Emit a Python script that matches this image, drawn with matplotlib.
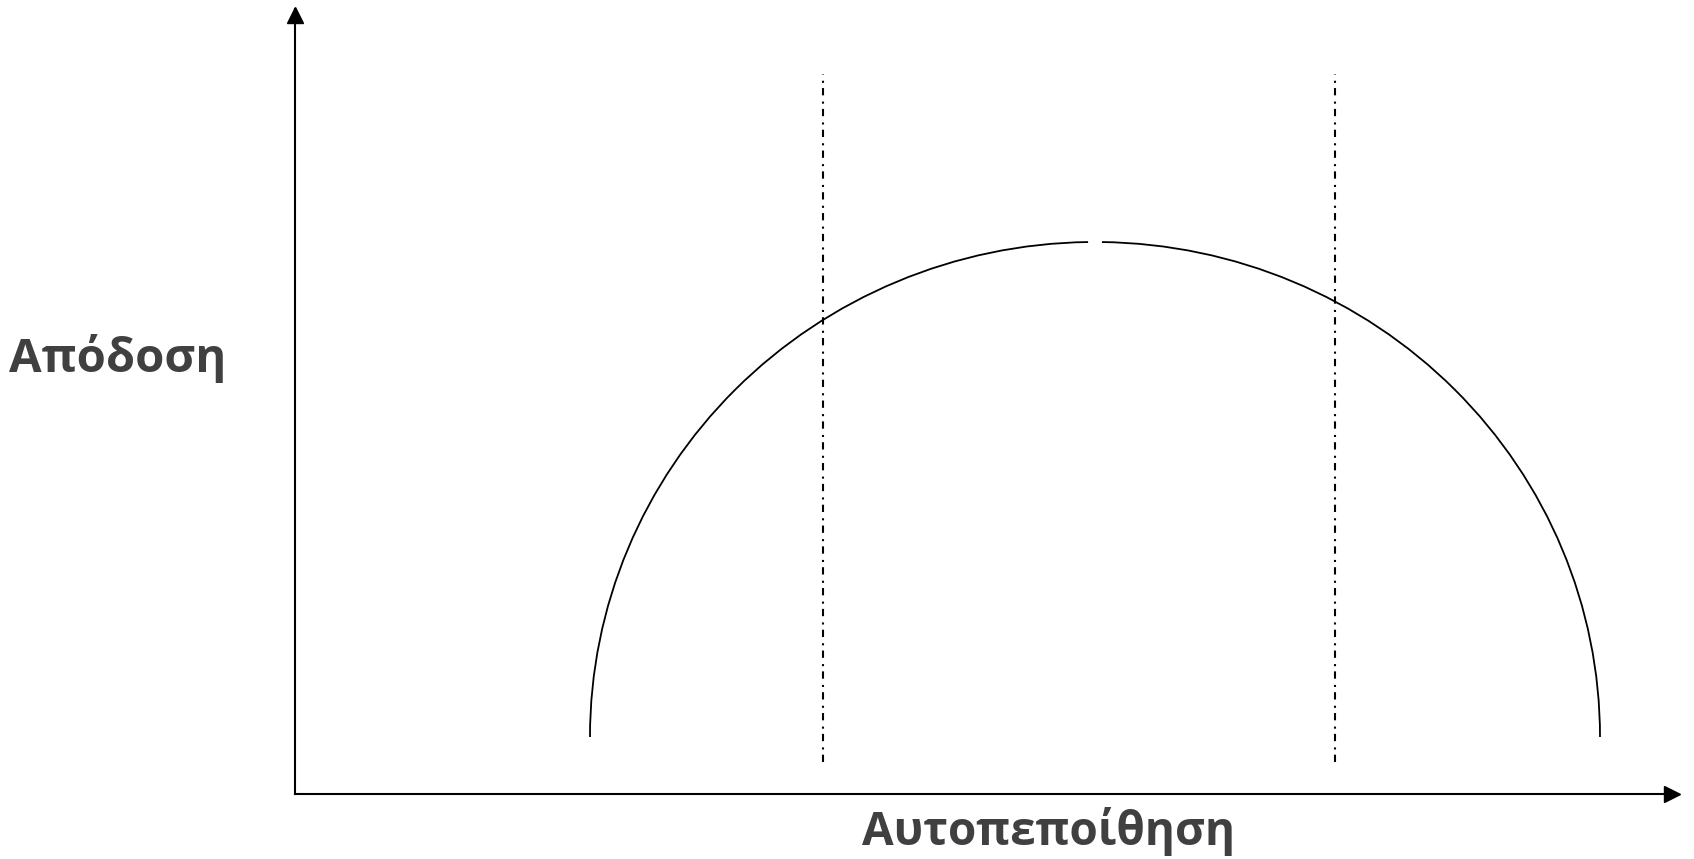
import matplotlib.pyplot as plt
from matplotlib.patches import Arc

# diagram values, in pixel units measured from the axes origin
axis_len = [1383, 785]                 # x axis, y axis length
arc_center = [800, 57]
arc_size = [1010, 990]                 # width, height of the half ellipse
arc_gap = 0.8                          # half gap at the top, degrees
guide_x = [528, 1040]                  # dash-dot guide lines
guide_y = [32, 720]

x_label = "Αυτοπεποίθηση"
y_label = "Απόδοση"
text_color = "#404040"

W, H = 1694, 859
fig = plt.figure(figsize=(W / 100, H / 100), dpi=100)
ax = fig.add_axes([295 / W, (H - 794) / H, axis_len[0] / W, axis_len[1] / H])
ax.set_xlim(0, axis_len[0])
ax.set_ylim(0, axis_len[1])

for s in ["top", "right"]:
    ax.spines[s].set_visible(False)
for s in ["left", "bottom"]:
    ax.spines[s].set_linewidth(1.5)
ax.set_xticks([])
ax.set_yticks([])

# arrow heads
ax.plot(axis_len[0] - 6, 0, ">", color="black", ms=11, clip_on=False)
ax.plot(0, axis_len[1] - 6, "^", color="black", ms=11, clip_on=False)

# the curve, split at the top
for t1, t2 in [(0, 90 - arc_gap), (90 + arc_gap, 180)]:
    ax.add_patch(Arc(arc_center, arc_size[0], arc_size[1], theta1=t1, theta2=t2,
                     color="black", lw=1.3))

for gx in guide_x:
    ax.plot([gx, gx], guide_y, color="black", lw=1.5,
            linestyle=(0, (3.5, 2.5, 1, 3)))

fig.text(118 / W, (H - 372) / H, y_label, ha="center", va="baseline",
         fontsize=34, fontweight="bold", family="Open Sans", color=text_color)
fig.text(1049 / W, (H - 845) / H, x_label, ha="center", va="baseline",
         fontsize=33, fontweight="bold", family="Open Sans", color=text_color)

fig.savefig("out.png", dpi=100)
